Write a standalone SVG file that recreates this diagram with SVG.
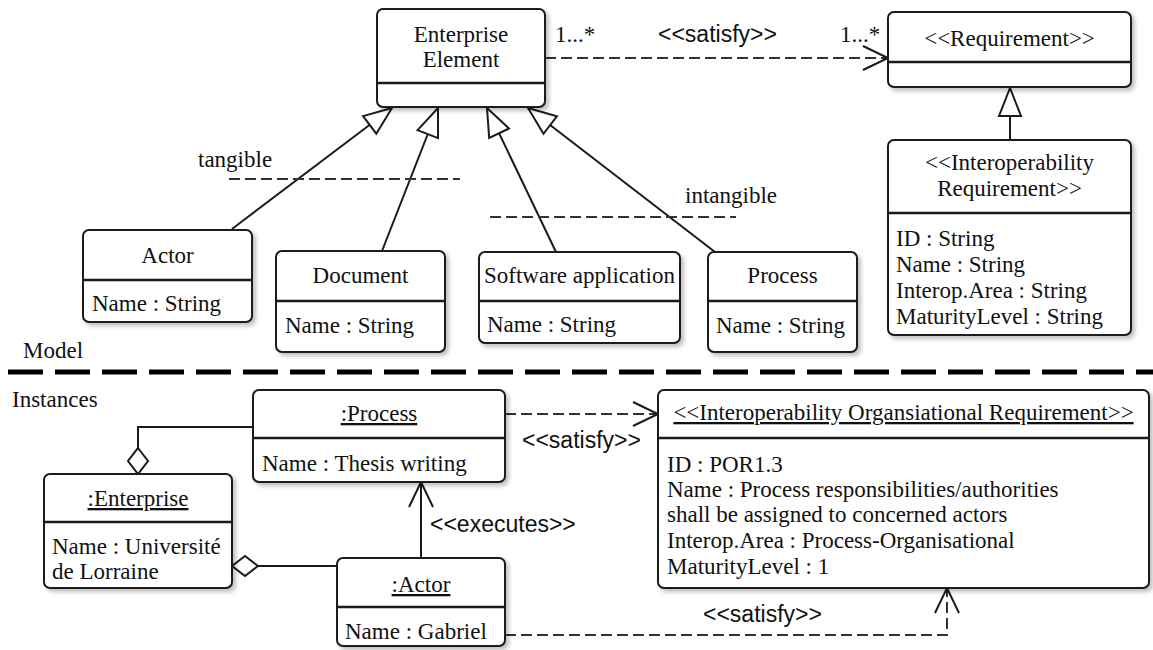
<svg xmlns="http://www.w3.org/2000/svg" width="1153" height="650" viewBox="0 0 1153 650">
<defs>
<filter id="sh" x="-10%" y="-10%" width="130%" height="130%">
<feDropShadow dx="3" dy="3" stdDeviation="2" flood-color="#000" flood-opacity="0.25"/>
</filter>
<marker id="gen" markerUnits="userSpaceOnUse" viewBox="-2 -2 32 26" refX="28" refY="11" markerWidth="32" markerHeight="26" orient="auto" overflow="visible">
<path d="M0,0 L28,11 L0,22 Z" fill="#fff" stroke="#1a1a1a" stroke-width="2" stroke-dasharray="none" stroke-linejoin="miter"/>
</marker>
<marker id="open" markerUnits="userSpaceOnUse" viewBox="-2 -2 30 28" refX="25" refY="12" markerWidth="30" markerHeight="28" orient="auto" overflow="visible">
<path d="M0,0 L25,12 L0,24" fill="none" stroke="#1a1a1a" stroke-width="2" stroke-dasharray="none"/>
</marker>
</defs>
<style>
.box{fill:#fff;stroke:#1a1a1a;stroke-width:2;filter:url(#sh)}
.div{stroke:#1a1a1a;stroke-width:2.5}
.t{font-family:"Liberation Serif","Times New Roman",serif;font-size:23px;fill:#111}
.c{text-anchor:middle}
.u{text-decoration:underline}
.s{font-family:"Liberation Sans",Arial,sans-serif;font-size:23px;fill:#111}
.ln{fill:none;stroke:#1a1a1a;stroke-width:2}
.dash{fill:none;stroke:#333;stroke-width:2;stroke-dasharray:11 5}
.sep{fill:none;stroke:#000;stroke-width:5;stroke-dasharray:35 12}
</style>
<rect width="1153" height="650" fill="#fff"/>

<g id="connectors">
<line class="dash" x1="545" y1="58" x2="888" y2="58" marker-end="url(#open)"/>
<line class="ln" x1="1010" y1="140" x2="1010" y2="88" marker-end="url(#gen)"/>
<line class="ln" x1="232" y1="229" x2="392" y2="108" marker-end="url(#gen)"/>
<line class="ln" x1="382" y1="251" x2="438" y2="108" marker-end="url(#gen)"/>
<line class="ln" x1="556" y1="252" x2="487" y2="108" marker-end="url(#gen)"/>
<line class="ln" x1="715" y1="252" x2="528" y2="108" marker-end="url(#gen)"/>
<line class="dash" x1="229" y1="179" x2="460" y2="179"/>
<line class="dash" x1="490" y1="217" x2="736" y2="217"/>
<line class="sep" x1="8" y1="372" x2="1153" y2="372"/>
<line class="dash" x1="505" y1="414" x2="658" y2="414" marker-end="url(#open)"/>
<polyline class="ln" points="253,427 138,427 138,448"/>
<path d="M138,448 L148,461 L138,474 L128,461 Z" fill="#fff" stroke="#1a1a1a" stroke-width="2"/>
<line class="ln" x1="337" y1="566" x2="258" y2="566"/>
<path d="M232,566 L245,556 L258,566 L245,576 Z" fill="#fff" stroke="#1a1a1a" stroke-width="2"/>
<line class="ln" x1="421" y1="558" x2="421" y2="482" marker-end="url(#open)"/>
<polyline class="dash" points="505,635 947,635 947,588" stroke-dasharray="9 5" marker-end="url(#open)"/>
<text class="t" x="555" y="42">1...*</text>
<text class="s" x="658" y="42">&lt;&lt;satisfy&gt;&gt;</text>
<text class="t" x="840" y="42">1...*</text>
<text class="t" x="198" y="167">tangible</text>
<text class="t" x="685" y="203">intangible</text>
<text class="s" x="522" y="448">&lt;&lt;satisfy&gt;&gt;</text>
<text class="s" x="430" y="532">&lt;&lt;executes&gt;&gt;</text>
<text class="s" x="703" y="622">&lt;&lt;satisfy&gt;&gt;</text>
</g>

<text class="t" x="23" y="358">Model</text>
<text class="t" x="12" y="407">Instances</text>

<g id="enterprise-element">
<rect class="box" x="377" y="9" width="168" height="98" rx="6"/>
<line class="div" x1="377" y1="83" x2="545" y2="83"/>
<text class="t c" x="461" y="42">Enterprise</text>
<text class="t c" x="461" y="67">Element</text>
</g>

<g id="requirement">
<rect class="box" x="888" y="12" width="243" height="75" rx="6"/>
<line class="div" x1="888" y1="62" x2="1131" y2="62"/>
<text class="t c" x="1009.5" y="46">&lt;&lt;Requirement&gt;&gt;</text>
</g>

<g id="interop-requirement">
<rect class="box" x="888" y="140" width="243" height="195" rx="6"/>
<line class="div" x1="888" y1="213" x2="1131" y2="213"/>
<text class="t c" x="1009.5" y="170">&lt;&lt;Interoperability</text>
<text class="t c" x="1009.5" y="196">Requirement&gt;&gt;</text>
<text class="t" x="896" y="246">ID : String</text>
<text class="t" x="896" y="272">Name : String</text>
<text class="t" x="896" y="298">Interop.Area : String</text>
<text class="t" x="896" y="324">MaturityLevel : String</text>
</g>

<g id="actor">
<rect class="box" x="83" y="230" width="169" height="92" rx="6"/>
<line class="div" x1="83" y1="280" x2="252" y2="280"/>
<text class="t c" x="167.5" y="263">Actor</text>
<text class="t" x="92" y="311">Name : String</text>
</g>

<g id="document">
<rect class="box" x="276" y="251" width="169" height="101" rx="6"/>
<line class="div" x1="276" y1="301" x2="445" y2="301"/>
<text class="t c" x="360.5" y="283">Document</text>
<text class="t" x="285" y="333">Name : String</text>
</g>

<g id="software-application">
<rect class="box" x="479" y="252" width="201" height="91" rx="6"/>
<line class="div" x1="479" y1="301" x2="680" y2="301"/>
<text class="t c" x="579.5" y="283">Software application</text>
<text class="t" x="487" y="332">Name : String</text>
</g>

<g id="process">
<rect class="box" x="708" y="252" width="149" height="100" rx="6"/>
<line class="div" x1="708" y1="301" x2="857" y2="301"/>
<text class="t c" x="782.5" y="283">Process</text>
<text class="t" x="716" y="333">Name : String</text>
</g>

<g id="process-instance">
<rect class="box" x="253" y="390" width="252" height="92" rx="6"/>
<line class="div" x1="253" y1="438" x2="505" y2="438"/>
<text class="t c u" x="379" y="421">:Process</text>
<text class="t" x="262" y="471">Name : Thesis writing</text>
</g>

<g id="enterprise-instance">
<rect class="box" x="44" y="474" width="188" height="114" rx="6"/>
<line class="div" x1="44" y1="522" x2="232" y2="522"/>
<text class="t c u" x="138" y="506">:Enterprise</text>
<text class="t" x="52" y="554">Name : Université</text>
<text class="t" x="52" y="579">de Lorraine</text>
</g>

<g id="actor-instance">
<rect class="box" x="337" y="558" width="168" height="88" rx="6"/>
<line class="div" x1="337" y1="607" x2="505" y2="607"/>
<text class="t c u" x="421" y="592">:Actor</text>
<text class="t" x="345" y="639">Name : Gabriel</text>
</g>

<g id="interop-org-requirement">
<rect class="box" x="658" y="390" width="491" height="198" rx="6"/>
<line class="div" x1="658" y1="438" x2="1149" y2="438"/>
<text class="t c u" x="903.5" y="420">&lt;&lt;Interoperability Organsiational Requirement&gt;&gt;</text>
<text class="t" x="667" y="472">ID : POR1.3</text>
<text class="t" x="667" y="497">Name : Process responsibilities/authorities</text>
<text class="t" x="667" y="522">shall be assigned to concerned actors</text>
<text class="t" x="667" y="548">Interop.Area : Process-Organisational</text>
<text class="t" x="667" y="574">MaturityLevel : 1</text>
</g>
</svg>
